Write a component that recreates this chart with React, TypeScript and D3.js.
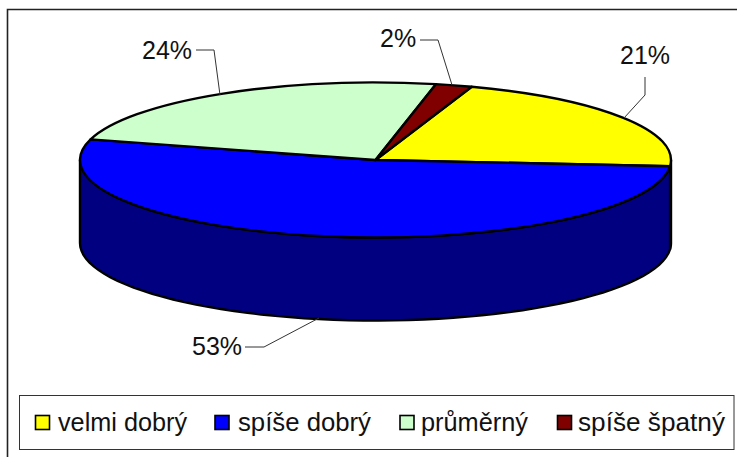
import React from "react";
import * as d3 from "d3";

const categories = ["velmi dobrý", "spíše dobrý", "průměrný", "spíše špatný"];
const values = [21, 53, 24, 2];
const topColors = ["#ffff00", "#0000ff", "#ccffcc", "#800000"];
const wallColors = ["#000080", "#000080", "#669966", "#400000"];
const labelText = ["21%", "53%", "24%", "2%"];
const legendX = [35.5, 215, 400, 557.5];
const legendTextX = [58, 238, 421, 578];
const legendWidths = [129, 133, 107, 147];

const W = 737, H = 457;
const cx = 375.5, cy = 160, rx = 295.5, ry = 77.5, depth = 83;

const leaders: [number, number][][] = [
  [[645, 77], [645, 95], [624, 118]],
  [[245, 347], [264, 347], [319, 318]],
  [[196, 50], [214, 50], [220, 95]],
  [[420, 40], [438, 40], [452, 85]],
];
const labelPos: [number, number][] = [[620, 64], [192, 355], [142, 59], [380, 47]];

export default function App() {
  const scaleY = ry / rx;
  const pie = d3.pie<number>().sort(null).startAngle((19 * Math.PI) / 180).endAngle((379 * Math.PI) / 180);
  const arcs = pie(values);
  const arc = d3.arc<d3.PieArcDatum<number>>().innerRadius(0).outerRadius(rx);

  const pt = (a: number, dy = 0): [number, number] => [
    cx + rx * Math.sin(a),
    cy - ry * Math.cos(a) + dy,
  ];
  const wallPath = (a0: number, a1: number) => {
    const s = Math.max(a0, Math.PI / 2);
    const e = Math.min(a1, (3 * Math.PI) / 2);
    if (e <= s) return null;
    const ts = d3.range(0, 61).map((i) => s + ((e - s) * i) / 60);
    const top = ts.map((t) => pt(t));
    const bot = ts.map((t) => pt(t, depth)).reverse();
    return d3.line()([...top, ...bot]) + "Z";
  };

  return (
    <svg
      width={W}
      height={H}
      viewBox={`0 0 ${W} ${H}`}
      style={{ position: "absolute", left: 0, top: 0, background: "#fff" }}
      fontFamily="'Liberation Sans', Arial, sans-serif"
    >
      <path d={`M7.5 ${H}V9.5H${W}`} fill="none" stroke="#222" strokeWidth={1.6} />

      {arcs.map((d, i) => {
        const p = wallPath(d.startAngle, d.endAngle);
        return p ? <path key={i} d={p} fill={wallColors[i]} stroke="#000" strokeWidth={2.4} /> : null;
      })}
      <g transform={`translate(${cx},${cy}) scale(1,${scaleY})`}>
        {arcs.map((d, i) => (
          <path
            key={i}
            d={arc(d) ?? ""}
            fill={topColors[i]}
            stroke="#000"
            strokeWidth={2.4}
            strokeLinejoin="round"
            vectorEffect="non-scaling-stroke"
          />
        ))}
      </g>

      {leaders.map((pts, i) => (
        <path key={i} d={d3.line()(pts) ?? ""} fill="none" stroke="#333" strokeWidth={1} />
      ))}
      {labelText.map((t, i) => (
        <text key={i} x={labelPos[i][0]} y={labelPos[i][1]} fontSize={25} fill="#111">
          {t}
        </text>
      ))}

      <rect x={19.5} y={395.5} width={714.5} height={54} fill="#fff" stroke="#333" strokeWidth={1} />
      {categories.map((c, i) => (
        <g key={c}>
          <rect x={legendX[i]} y={415.5} width={14} height={14} fill={topColors[i]} stroke="#000" strokeWidth={1.6} />
          <text
            x={legendTextX[i]}
            y={431}
            fontSize={25}
            fill="#111"
            textLength={legendWidths[i]}
            lengthAdjust="spacingAndGlyphs"
          >
            {c}
          </text>
        </g>
      ))}
    </svg>
  );
}
